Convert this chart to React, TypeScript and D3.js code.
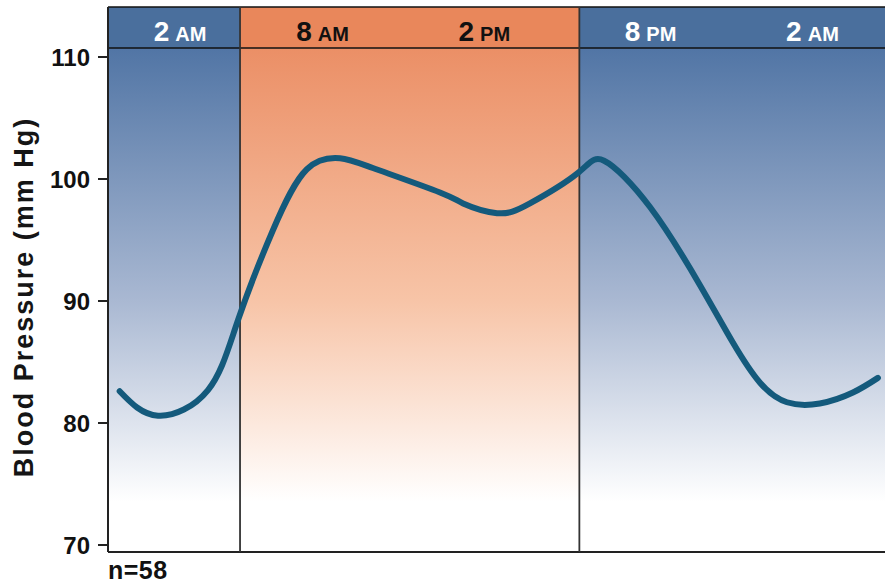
import React from 'react';
import * as d3 from 'd3';

// Data
const hours = [0.43, 1.84, 3.68, 4.78, 6.07, 7.32, 8.54, 9.75, 12.22, 13.07, 14.32, 15.53, 17.3, 18.26, 19.95, 21.79, 23.0, 24.0, 24.99, 26.2, 27.42, 28.34];
const pressure = [82.6, 80.6, 82.7, 88.4, 95.8, 100.8, 101.7, 100.9, 98.9, 98.0, 97.2, 98.0, 100.5, 101.5, 97.7, 91.3, 86.6, 83.3, 81.7, 81.6, 82.5, 83.7];
const yTicks = [70, 80, 90, 100, 110];
const periodStarts = [0, 4.86, 17.35];
const periodEnds = [4.86, 17.35, 28.6];
const periodKinds = ['night', 'day', 'night'];
const headerNumbers = ['2', '8', '2', '8', '2'];
const headerSuffixes = ['AM', 'AM', 'PM', 'PM', 'AM'];
const headerHours = [2.65, 7.9, 13.85, 19.97, 25.93];
const yTitle = 'Blood Pressure (mm Hg)';
const note = 'n=58';

const W = 885;
const H = 584;
const left = 108;
const right = 885;
const headerTop = 7;
const headerBottom = 48;
const plotBottom = 552;

export default function App() {
  const x = d3.scaleLinear().domain([0, 28.6]).range([left, right]);
  const y = d3.scaleLinear().domain([70, 110]).range([545, 57]);
  const pts: [number, number][] = hours.map((h, i) => [h, pressure[i]]);
  const line = d3
    .line<[number, number]>()
    .x((d) => x(d[0]))
    .y((d) => y(d[1]))
    .curve(d3.curveNatural);
  const font = '"Liberation Sans", Arial, Helvetica, sans-serif';

  return (
    <svg
      width={W}
      height={H}
      viewBox={`0 0 ${W} ${H}`}
      style={{ position: 'absolute', left: 0, top: 0, background: '#fff' }}
    >
      <defs>
        <linearGradient id="nightGrad" x1="0" y1={headerBottom} x2="0" y2={plotBottom} gradientUnits="userSpaceOnUse">
          <stop offset="0" stopColor="#5175a5" />
          <stop offset="0.5" stopColor="#a9b8d2" />
          <stop offset="0.9" stopColor="#ffffff" />
          <stop offset="1" stopColor="#ffffff" />
        </linearGradient>
        <linearGradient id="dayGrad" x1="0" y1={headerBottom} x2="0" y2={plotBottom} gradientUnits="userSpaceOnUse">
          <stop offset="0" stopColor="#eb8f66" />
          <stop offset="0.5" stopColor="#f7c4a7" />
          <stop offset="0.9" stopColor="#ffffff" />
          <stop offset="1" stopColor="#ffffff" />
        </linearGradient>
      </defs>

      {periodStarts.map((s, i) => (
        <g key={'p' + i}>
          <rect
            x={x(s)}
            y={headerBottom}
            width={x(periodEnds[i]) - x(s)}
            height={plotBottom - headerBottom}
            fill={periodKinds[i] === 'day' ? 'url(#dayGrad)' : 'url(#nightGrad)'}
          />
          <rect
            x={x(s)}
            y={headerTop}
            width={x(periodEnds[i]) - x(s)}
            height={headerBottom - headerTop}
            fill={periodKinds[i] === 'day' ? '#e9875b' : '#4a6f9d'}
          />
        </g>
      ))}

      {/* frame lines */}
      <line x1={left} x2={right} y1={headerTop} y2={headerTop} stroke="#111" strokeWidth={1.5} />
      <line x1={left} x2={right} y1={headerBottom} y2={headerBottom} stroke="#111" strokeWidth={1.5} />
      <line x1={left} x2={right} y1={plotBottom} y2={plotBottom} stroke="#222" strokeWidth={2} />
      <line x1={left} x2={left} y1={headerTop} y2={plotBottom} stroke="#222" strokeWidth={2} />
      {periodStarts.slice(1).map((s, i) => (
        <line key={'d' + i} x1={x(s)} x2={x(s)} y1={headerTop} y2={plotBottom} stroke="#333" strokeWidth={1.8} />
      ))}

      {/* y axis ticks */}
      {yTicks.map((t) => (
        <g key={'t' + t}>
          <line x1={98} x2={left} y1={y(t)} y2={y(t)} stroke="#222" strokeWidth={2} />
          <text
            x={90}
            y={y(t) + 8.5}
            textAnchor="end"
            fontFamily={font}
            fontWeight="bold"
            fontSize={24}
            fill="#111"
          >
            {t}
          </text>
        </g>
      ))}

      <text
        transform={`translate(33, 297) rotate(-90)`}
        textAnchor="middle"
        fontFamily={font}
        fontWeight="bold"
        fontSize={27}
        letterSpacing={2}
        fill="#151515"
      >
        {yTitle}
      </text>

      <text x={108} y={579} fontFamily={font} fontWeight="bold" fontSize={25} letterSpacing={0.5} fill="#111">
        {note}
      </text>

      {/* header labels */}
      {headerHours.map((h, i) => {
        const day = h > periodStarts[1] && h < periodStarts[2];
        return (
          <text
            key={'h' + i}
            x={x(h)}
            y={41}
            textAnchor="middle"
            fontFamily={font}
            fontWeight="bold"
            fill={day ? '#111' : '#ffffff'}
          >
            <tspan fontSize={28}>{headerNumbers[i]}</tspan>
            <tspan fontSize={20} dx={6}>{headerSuffixes[i]}</tspan>
          </text>
        );
      })}

      <path d={line(pts) || ''} fill="none" stroke="#145a7c" strokeWidth={6} strokeLinecap="round" />
    </svg>
  );
}
